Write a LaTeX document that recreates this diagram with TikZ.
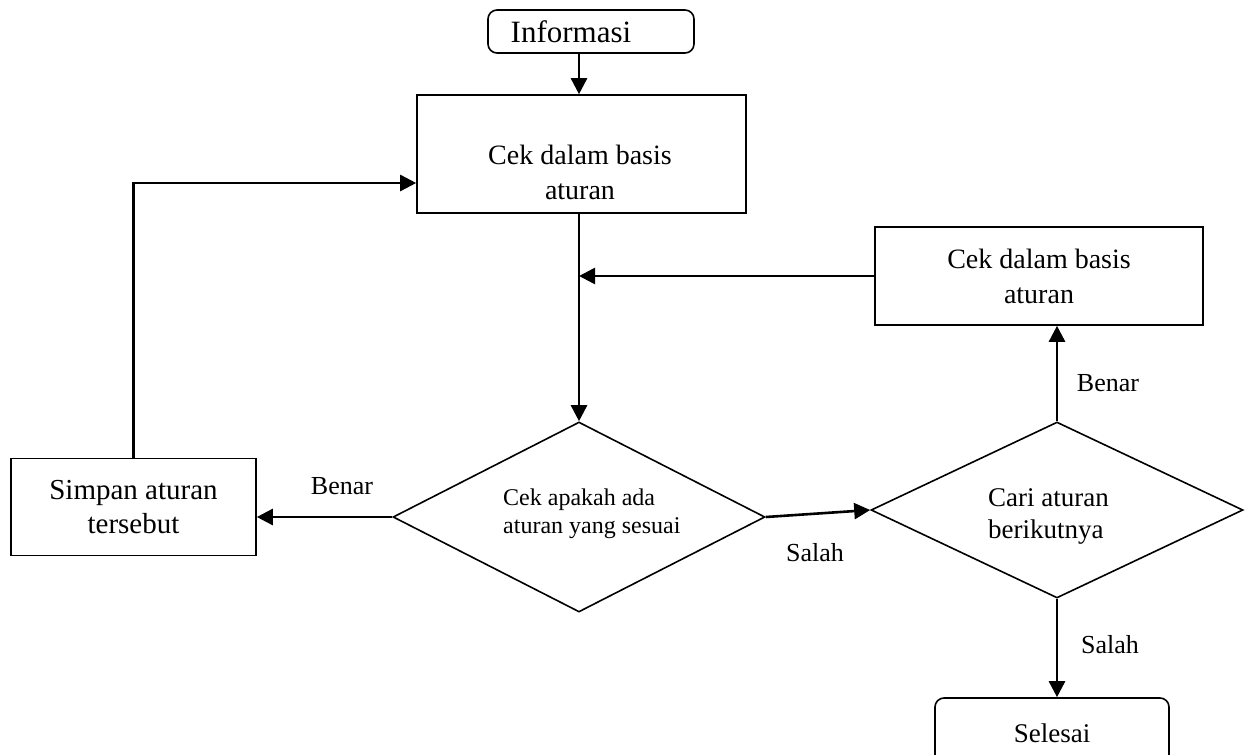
\documentclass[tikz,border=0pt]{standalone}
\usepackage{fontspec}
\setmainfont{Liberation Serif}
\usetikzlibrary{shapes.geometric,arrows.meta}
\begin{document}
\begin{tikzpicture}[x=1pt,y=-1pt,
  flowbox/.style={draw, line width=1.6pt, inner sep=0pt, align=center},
  term/.style={flowbox, rounded corners=9pt},
  decision/.style={draw, line width=1.6pt, shape=diamond, inner sep=0pt},
  txt/.style={align=center, inner sep=0pt, font=\fontsize{28}{35}\selectfont},
  dtxt/.style={align=left, inner sep=0pt, anchor=west},
  lbl/.style={inner sep=0pt, font=\fontsize{26}{30}\selectfont},
  flow/.style={line width=2.6pt, -{Triangle[length=16pt,width=16pt]}}]
\clip (0,0) rectangle (1251,755);
\fill[white] (0,0) rectangle (1251,755);

% nodes
\node[term, minimum width=206pt, minimum height=43pt, font=\fontsize{31}{36}\selectfont] (info) at (591,31.5) {Informasi\hspace*{40pt}};
\node[flowbox, minimum width=329pt, minimum height=118pt] (cek1) at (581.5,154) {};
\node[txt] (cek1t) at (580,172) {Cek dalam basis\\aturan};
\node[flowbox, minimum width=328pt, minimum height=98pt, font=\fontsize{28}{35}\selectfont] (rb) at (1039,276) {Cek dalam basis\\aturan};
\node[decision, minimum width=372pt, minimum height=190pt] (d1) at (579,517) {};
\node[dtxt, font=\fontsize{24}{28}\selectfont] (d1t) at (503,514) {Cek apakah ada\\aturan yang sesuai};
\node[decision, minimum width=372pt, minimum height=176pt] (d2) at (1057,510) {};
\node[dtxt, font=\fontsize{27}{32}\selectfont] (d2t) at (988,516) {Cari aturan\\berikutnya};
\node[flowbox, minimum width=245pt, minimum height=97pt, font=\fontsize{29}{34}\selectfont] (simpan) at (133.5,507) {Simpan aturan\\tersebut};
\node[term, minimum width=234pt, minimum height=70pt, font=\fontsize{27}{32}\selectfont] (sel) at (1052,733) {Selesai};

% connectors
\draw[flow] (info.south -| d1.north) -- (cek1.north -| d1.north);
\draw[flow] (cek1.south -| d1.north) -- (d1.north);
\coordinate (j) at (d1.north |- rb.west);
\draw[flow] (rb.west) -- (j);
\draw[flow] (d1.west) -- (simpan.east |- d1.west);
\draw[flow] (simpan.north) |- ([yshift=-29pt]cek1.west);
\draw[flow] (d1.east) -- (d2.west);
\draw[flow] (d2.north) -- (rb.south -| d2.north);
\draw[flow] (d2.south) -- (sel.north -| d2.south);

% labels
\node[lbl] (l1) at (342,486) {Benar};
\node[lbl] (l2) at (815,553) {Salah};
\node[lbl] (l3) at (1108,383) {Benar};
\node[lbl] (l4) at (1110,645) {Salah};
\end{tikzpicture}
\end{document}
